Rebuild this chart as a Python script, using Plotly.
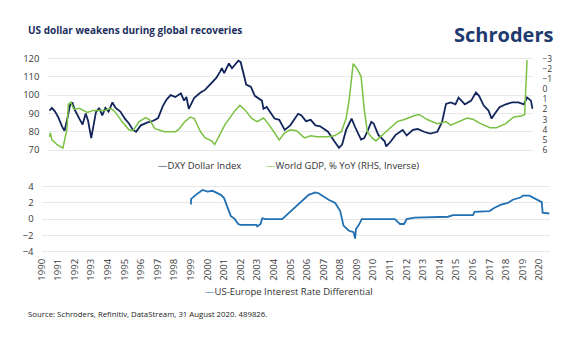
import plotly.graph_objects as go

W, H = 571, 339

# ---- DXY Dollar Index (left axis) ----
dxy_t = [1990.0, 1990.15, 1990.35, 1990.55, 1990.8, 1990.95, 1991.15, 1991.3, 1991.45, 1991.6,
         1991.9, 1992.1, 1992.3, 1992.45, 1992.65, 1992.8, 1992.95, 1993.15, 1993.35, 1993.55,
         1993.75, 1994.0, 1994.2, 1994.5, 1994.8, 1995.05, 1995.3, 1995.5, 1995.8, 1996.2,
         1996.6, 1996.9, 1997.2, 1997.45, 1997.7, 1998.0, 1998.35, 1998.55, 1998.7, 1998.85,
         1999.2, 1999.6, 1999.9, 2000.3, 2000.6, 2000.85, 2000.95, 2001.1, 2001.4, 2001.6,
         2001.8, 2002.0, 2002.15, 2002.3, 2002.5, 2002.8, 2003.05, 2003.5, 2003.6, 2003.8,
         2004.0, 2004.3, 2004.6, 2004.95, 2005.3, 2005.8, 2006.0, 2006.3, 2006.6, 2006.9,
         2007.2, 2007.7, 2008.1, 2008.4, 2008.6, 2008.85, 2009.05, 2009.2, 2009.4, 2009.6,
         2009.8, 2010.0, 2010.2, 2010.45, 2010.6, 2010.9, 2011.3, 2011.4, 2011.7, 2012.0,
         2012.3, 2012.45, 2012.7, 2013.1, 2013.4, 2013.8, 2014.2, 2014.65, 2014.95, 2015.2,
         2015.5, 2015.8, 2016.0, 2016.4, 2016.8, 2017.1, 2017.3, 2017.6, 2017.9, 2018.1,
         2018.3, 2018.6, 2019.0, 2019.4, 2019.8, 2020.15, 2020.35, 2020.6, 2020.7]
dxy_v = [91.6, 93, 91, 88, 82.8, 80.5, 88, 94.5, 96, 92,
         87, 84, 90, 86, 76.5, 83, 90.7, 93, 89, 93,
         91, 96, 93, 91, 87, 84.5, 81, 80, 83.5, 85,
         86, 87.5, 94, 97.7, 100, 99, 101, 97, 99, 92.5,
         98.6, 101.4, 103, 106.7, 109.4, 113, 114.7, 112, 117.3, 114.7,
         117, 118.8, 118, 112, 105.8, 104.5, 99.6, 97, 92.5, 93.5,
         90.7, 87.2, 86.5, 81, 83.5, 89.8, 89, 85.8, 86.5, 83.5,
         83, 80, 74.8, 71.2, 73, 81, 84.5, 87.2, 83, 79,
         75.7, 76.5, 80, 85.4, 84.5, 78.3, 74.8, 72, 74.8, 78.3,
         80, 81, 78, 81, 81.5, 80, 79, 80, 85.4, 95.2,
         96, 95, 98.7, 95, 97, 101.4, 99.6, 94.3, 91.6, 87.2,
         89.8, 93.4, 95, 96, 96, 95, 98.7, 97, 92.5]

# ---- World GDP, % YoY (right axis, inverted) ----
gdp_t = [1990.0, 1990.05, 1990.15, 1990.5, 1990.85, 1991.1, 1991.2, 1991.35, 1991.55, 1991.9,
         1992.4, 1992.8, 1993.5, 1993.9, 1994.2, 1994.6, 1995.05, 1995.3, 1995.7, 1996.1,
         1996.35, 1996.7, 1997.3, 1998.0, 1998.2, 1998.6, 1998.95, 1999.2, 1999.6, 1999.9,
         2000.3, 2000.5, 2001.15, 2001.8, 2002.1, 2002.45, 2002.85, 2003.2, 2003.6, 2003.9,
         2004.3, 2004.6, 2004.95, 2005.3, 2005.7, 2006.2, 2006.6, 2007.0, 2007.7, 2008.1,
         2008.55, 2008.85, 2009.05, 2009.3, 2009.55, 2009.8, 2010.0, 2010.2, 2010.5, 2010.75,
         2011.05, 2011.7, 2012.1, 2012.55, 2013.2, 2013.5, 2014.0, 2014.65, 2015.2, 2015.5,
         2016.0, 2016.55, 2016.95, 2017.4, 2018.0, 2018.4, 2019.0, 2019.5, 2020.0, 2020.2,
         2020.28, 2020.35]
gdp_v = [4.7, 4.3, 5.0, 5.5, 5.8, 4.0, 1.5, 1.3, 2.0, 1.9,
         2.3, 2.1, 2.1, 1.9, 2.3, 3.2, 4.0, 4.1, 3.2, 2.8,
         3.0, 3.9, 4.2, 4.2, 4.0, 3.2, 2.75, 2.9, 4.2, 4.8,
         5.1, 5.45, 3.5, 2.1, 1.6, 2.1, 2.9, 3.2, 2.85, 3.4,
         4.3, 5.0, 4.3, 4.0, 4.1, 4.8, 4.6, 4.7, 4.7, 4.6,
         4.2, 2.9, 1.0, -2.5, -2.0, -1.25, 1.95, 4.2, 4.8, 5.1,
         4.66, 3.7, 3.2, 3.0, 2.6, 2.5, 3.0, 3.4, 3.2, 3.55,
         3.2, 2.85, 3.0, 3.4, 3.8, 3.8, 3.4, 2.75, 2.65, 2.5,
         -0.3, -2.85]

# ---- US-Europe interest rate differential ----
ird_t = [1999.0, 1999.02, 1999.3, 1999.5, 1999.7, 2000.0, 2000.3, 2000.5, 2000.8, 2001.0,
         2001.2, 2001.4, 2001.65, 2001.85, 2002.0, 2002.95, 2003.0, 2003.2, 2003.3, 2003.5,
         2004.5, 2006.1, 2006.5, 2006.7, 2007.3, 2007.7, 2008.0, 2008.2, 2008.5, 2008.8,
         2008.9, 2008.95, 2009.1, 2009.3, 2011.3, 2011.6, 2011.85, 2012.0, 2012.5, 2014.5,
         2014.8, 2016.0, 2016.1, 2017.0, 2017.3, 2017.7, 2018.1, 2018.4, 2018.9, 2019.0,
         2019.4, 2019.75, 2020.0, 2020.15, 2020.2, 2020.6]
ird_v = [1.8, 2.5, 3.0, 3.3, 3.6, 3.4, 3.5, 3.3, 3.0, 2.6,
         1.6, 0.4, 0.0, -0.6, -0.7, -0.7, -0.9, -0.6, 0.1, 0.0,
         0.0, 3.0, 3.3, 3.2, 2.4, 2.0, 1.0, -0.8, -1.4, -1.6,
         -2.4, -1.2, -0.8, 0.0, 0.0, -0.6, -0.6, 0.0, 0.2, 0.3,
         0.5, 0.5, 0.9, 1.0, 1.4, 1.8, 2.0, 2.4, 2.7, 2.9,
         2.9, 2.5, 2.2, 2.1, 0.8, 0.7]

years = list(range(1990, 2021))
left_ticks = [70, 80, 90, 100, 110, 120]
right_ticks = [-3, -2, -1, 0, 1, 2, 3, 4, 5, 6]
bottom_ticks = [-4, -2, 0, 2, 4]

NAVY = "#13265c"
GREEN = "#7ac143"
BLUE = "#2270b4"
FONT = "Open Sans"
TICKC = "#3a3a3a"

def px(x):
    return x / W

def py(y):
    return (H - y) / H

fig = go.Figure()
fig.add_trace(go.Scatter(x=dxy_t, y=dxy_v, mode="lines", name="DXY Dollar Index",
                         line=dict(color=NAVY, width=1.8), xaxis="x", yaxis="y", showlegend=False))
fig.add_trace(go.Scatter(x=gdp_t, y=gdp_v, mode="lines", name="World GDP, % YoY (RHS, Inverse)",
                         line=dict(color=GREEN, width=1.5), xaxis="x", yaxis="y2", showlegend=False))
fig.add_trace(go.Scatter(x=ird_t, y=ird_v, mode="lines", name="US-Europe Interest Rate Differential",
                         line=dict(color=BLUE, width=1.8), xaxis="x2", yaxis="y3", showlegend=False))

tickfont = dict(family=FONT, size=9.5, color=TICKC)
rtickfont = dict(family=FONT, size=8.5, color=TICKC)

fig.update_layout(
    width=W, height=H, margin=dict(l=0, r=0, t=0, b=0),
    paper_bgcolor="white", plot_bgcolor="white",
    font=dict(family=FONT, color=TICKC),
    xaxis=dict(domain=[px(41), px(533)], range=[1989.87, 2020.76], showticklabels=False,
               showgrid=False, zeroline=False, showline=False, ticks=""),
    yaxis=dict(domain=[py(150.9), py(53.1)], range=[69, 121], tickvals=left_ticks,
               showgrid=True, gridcolor="#e8e8e8", gridwidth=1, zeroline=False, showline=False,
               tickfont=tickfont, ticks="", ticklabelstandoff=7),
    yaxis2=dict(domain=[py(150.9), py(53.1)], range=[6.18, -3.18], tickvals=right_ticks,
                overlaying="y", side="right", anchor="x", showgrid=False, zeroline=False,
                showline=False, tickfont=rtickfont, ticks="", ticklabelstandoff=8),
    xaxis2=dict(domain=[px(35), px(550)], range=[1990.0, 2020.66], anchor="y3",
                tickvals=years, ticktext=[str(y) for y in years], tickangle=-90,
                showgrid=False, zeroline=False, showline=False, ticks="",
                tickfont=tickfont, ticklabelstandoff=2),
    yaxis3=dict(domain=[py(255.8), py(184.2)], range=[-4.3, 4.3], anchor="x2",
                tickvals=bottom_ticks, showgrid=True, gridcolor="#e8e8e8", gridwidth=1,
                zeroline=False, showline=False, tickfont=tickfont, ticks="",
                ticklabelstandoff=7),
)

annotations = [
    dict(x=px(19), y=py(26), xref="paper", yref="paper", xanchor="left", yanchor="middle",
         text="<b>US dollar weakens during global recoveries</b>", showarrow=False,
         font=dict(family=FONT, size=10, color="#1d2f5e")),
    dict(x=px(555), y=py(30), xref="paper", yref="paper", xanchor="right", yanchor="middle",
         text="<b>Schroders</b>", showarrow=False,
         font=dict(family=FONT, size=20, color="#1e3a6e")),
    dict(x=px(151), y=py(165), xref="paper", yref="paper", xanchor="left", yanchor="middle",
         text=f"<span style='color:{NAVY}'>—</span>DXY Dollar Index", showarrow=False,
         font=dict(family=FONT, size=9.5, color="#333333")),
    dict(x=px(260), y=py(165), xref="paper", yref="paper", xanchor="left", yanchor="middle",
         text=f"<span style='color:{GREEN}'>—</span>World GDP, % YoY (RHS, Inverse)", showarrow=False,
         font=dict(family=FONT, size=9.5, color="#333333")),
    dict(x=px(198), y=py(294), xref="paper", yref="paper", xanchor="left", yanchor="middle",
         text=f"<span style='color:{BLUE}'>—</span>US-Europe Interest Rate Differential", showarrow=False,
         font=dict(family=FONT, size=9.5, color="#333333")),
    dict(x=px(19), y=py(317), xref="paper", yref="paper", xanchor="left", yanchor="middle",
         text="Source: Schroders, Refinitiv, DataStream, 31 August 2020. 489826.", showarrow=False,
         font=dict(family=FONT, size=7.8, color="#222222")),
]
fig.update_layout(annotations=annotations)

fig.write_html("out.html")
